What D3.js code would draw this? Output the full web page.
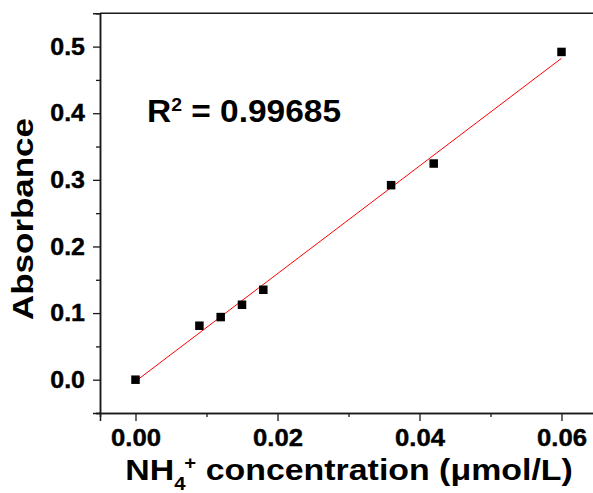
<!DOCTYPE html>
<html>
<head>
<meta charset="utf-8">
<script src="https://cdn.jsdelivr.net/npm/d3@7"></script>
<style>
  body { margin: 0; background: #fff; }
  svg { display: block; font-family: Arial, "Liberation Sans", sans-serif; font-weight: bold; }
</style>
</head>
<body>
<svg id="chart"></svg>
<script>
let width = 593
let height = 493

// measured points (NH4+ concentration, absorbance)
let concentration = [0, 0.009, 0.012, 0.015, 0.018, 0.036, 0.042, 0.06]
let absorbance = [0, 0.081, 0.094, 0.1125, 0.135, 0.292, 0.3245, 0.492]

// linear fit end points
let fitX = [0, 0.06]
let fitY = [-0.0025, 0.4825]

let xTicks = [0, 0.02, 0.04, 0.06]
let xMinor = [0.01, 0.03, 0.05]
let yTicks = [0, 0.1, 0.2, 0.3, 0.4, 0.5]
let yMinor = [-0.05, 0.05, 0.15, 0.25, 0.35, 0.45]
let rSquared = '0.99685'

let svg = d3.select('#chart')
    .attr('width', width)
    .attr('height', height)

let x = d3.scaleLinear().domain([-0.005, 0.065]).range([100, 597])
let y = d3.scaleLinear().domain([-0.05, 0.55]).range([413, 13.3])

let axisColor = '#1a1a1a'

// frame (top and right without ticks)
svg.append('line')
    .attr('x1', x.range()[0]).attr('x2', x.range()[1])
    .attr('y1', y.range()[1]).attr('y2', y.range()[1])
    .attr('stroke', axisColor).attr('stroke-width', 1.5)
svg.append('line')
    .attr('x1', x.range()[1]).attr('x2', x.range()[1])
    .attr('y1', y.range()[0]).attr('y2', y.range()[1])
    .attr('stroke', axisColor).attr('stroke-width', 1.5)

function styleAxis(g) {
    g.attr('font-family', null).attr('font-size', null)
    g.select('.domain').attr('stroke', axisColor).attr('stroke-width', 1.5)
    g.selectAll('.tick line').attr('stroke', axisColor).attr('stroke-width', 1.3)
    g.selectAll('.tick text')
        .attr('fill', '#000')
        .attr('stroke', '#000')
        .attr('stroke-width', 0.4)
        .style('font-size', '24px')
        .style('font-weight', 'bold')
}

// minor ticks first
svg.append('g')
    .attr('transform', `translate(${x.range()[0]},0)`)
    .call(d3.axisLeft(y).tickValues(yMinor).tickSize(4).tickFormat(''))
    .call(styleAxis)
svg.append('g')
    .attr('transform', `translate(0,${y.range()[0]})`)
    .call(d3.axisBottom(x).tickValues(xMinor).tickSize(4).tickFormat(''))
    .call(styleAxis)

let yAxis = svg.append('g')
    .attr('transform', `translate(${x.range()[0]},0)`)
    .call(d3.axisLeft(y).tickValues(yTicks).tickSize(7).tickPadding(8).tickFormat(d3.format('.1f')))
    .call(styleAxis)
let xAxis = svg.append('g')
    .attr('transform', `translate(0,${y.range()[0]})`)
    .call(d3.axisBottom(x).tickValues(xTicks).tickSize(8).tickPadding(8).tickFormat(d3.format('.2f')))
    .call(styleAxis)

// the original text is a little wider than Arial
function widen(sel, k) {
    sel.each(function () {
        let w = this.getComputedTextLength()
        d3.select(this)
            .attr('textLength', w * k)
            .attr('lengthAdjust', 'spacingAndGlyphs')
    })
}
widen(yAxis.selectAll('.tick text'), 1.04)
widen(xAxis.selectAll('.tick text'), 1.07)

// fit line
svg.append('line')
    .attr('x1', x(fitX[0])).attr('y1', y(fitY[0]))
    .attr('x2', x(fitX[1])).attr('y2', y(fitY[1]))
    .attr('stroke', '#ff0000')
    .attr('stroke-width', 1)

// points
let size = 8.5
svg.append('g').selectAll('rect')
    .data(concentration).enter()
    .append('rect')
    .attr('x', (d, i) => x(d) - size / 2)
    .attr('y', (d, i) => y(absorbance[i]) - size / 2)
    .attr('width', size)
    .attr('height', size)
    .attr('fill', '#000')

// R^2 label
let r2 = svg.append('text')
    .attr('x', 147)
    .attr('y', 122.3)
    .style('font-size', '31px')
    .attr('fill', '#000')
r2.append('tspan').text('R')
r2.append('tspan').text('2').style('font-size', '18px').attr('dy', -11)
r2.append('tspan').text(` = ${rSquared}`).attr('dy', 11)
r2.attr('textLength', 194).attr('lengthAdjust', 'spacingAndGlyphs')

// axis titles
svg.append('text')
    .attr('transform', 'translate(33.3,219) rotate(-90)')
    .attr('text-anchor', 'middle')
    .style('font-size', '29px')
    .attr('fill', '#000')
    .attr('textLength', 202)
    .attr('lengthAdjust', 'spacingAndGlyphs')
    .text('Absorbance')

let xTitle = svg.append('g')
    .attr('transform', 'translate(349,480) scale(1.13,1)')
    .append('text')
    .attr('text-anchor', 'middle')
    .style('font-size', '30px')
    .attr('fill', '#000')
xTitle.append('tspan').text('NH')
xTitle.append('tspan').text('4').style('font-size', '18px').attr('dy', 10)
xTitle.append('tspan').text('+').style('font-size', '18px').attr('dy', -21).attr('dx', -1)
xTitle.append('tspan').text(' concentration (μmol/L)').attr('dy', 11)
</script>
</body>
</html>
